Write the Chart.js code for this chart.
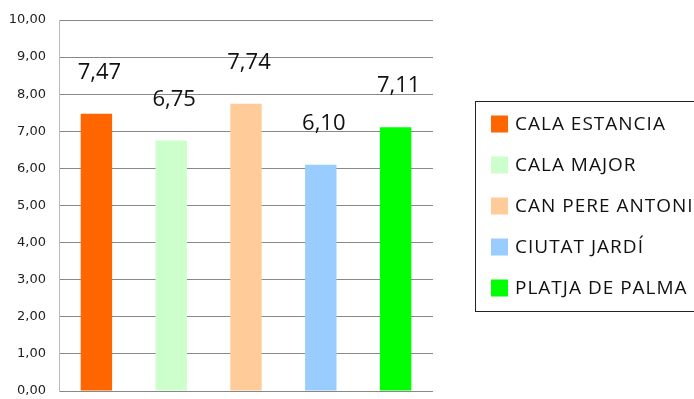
<!DOCTYPE html>
<html>
<head>
<meta charset="utf-8">
<script src="https://cdn.jsdelivr.net/npm/chart.js@4/dist/chart.umd.min.js"></script>
<style>
    html, body { margin: 0; padding: 0; background: #fff; overflow: hidden; }
    canvas { display: block; }
</style>
</head>
<body>
<canvas id="zonesChart" width="694" height="399"></canvas>
<script>
// Scores per zone
const zones = ['CALA ESTANCIA', 'CALA MAJOR', 'CAN PERE ANTONI', 'CIUTAT JARDÍ', 'PLATJA DE PALMA'];
const scores = [7.47, 6.75, 7.74, 6.10, 7.11];
const zoneColors = ['#FF6600', '#CCFFCC', '#FFCC99', '#99CCFF', '#00FF00'];

function formatComma(v) {
    return v.toFixed(2).replace('.', ',');
}

// Value labels drawn above each bar
const valueLabels = {
    id: 'valueLabels',
    afterDatasetsDraw(chart) {
        const ctx = chart.ctx;
        const meta = chart.getDatasetMeta(0);
        ctx.save();
        ctx.font = '22px "Open Sans"';
        ctx.fillStyle = '#111';
        ctx.textAlign = 'center';
        ctx.textBaseline = 'alphabetic';
        meta.data.forEach((bar, i) => {
            ctx.fillText(formatComma(scores[i]), bar.x + 3, bar.y - 35);
        });
        ctx.restore();
    }
};

// Boxed legend on the right
const boxLegend = {
    id: 'boxLegend',
    afterDraw(chart) {
        const ctx = chart.ctx;
        ctx.save();
        ctx.strokeStyle = '#222';
        ctx.lineWidth = 1;
        ctx.strokeRect(475.5, 101.5, 300, 210);
        ctx.font = '19px "Open Sans"';
        ctx.letterSpacing = '1px';
        ctx.textBaseline = 'middle';
        chart.data.labels.forEach((label, i) => {
            const cy = 124 + i * 41;
            ctx.fillStyle = zoneColors[i];
            ctx.fillRect(491, cy - 8.5, 17, 17);
            ctx.fillStyle = '#111';
            ctx.fillText(label, 515, cy + 1);
        });
        ctx.restore();
    }
};

new Chart(document.getElementById('zonesChart'), {
    type: 'bar',
    data: {
        labels: zones,
        datasets: [{
            data: scores,
            backgroundColor: zoneColors,
            barPercentage: 0.42,
            categoryPercentage: 1
        }]
    },
    options: {
        responsive: false,
        animation: false,
        layout: { padding: { left: 0, right: 261, top: 20, bottom: 8 } },
        plugins: {
            legend: { display: false },
            tooltip: { enabled: false }
        },
        scales: {
            x: {
                display: false
            },
            y: {
                min: 0,
                max: 10,
                ticks: {
                    stepSize: 1,
                    padding: 13,
                    color: '#222',
                    font: { family: 'DejaVu Sans', size: 13 },
                    callback: v => formatComma(v)
                },
                grid: { color: '#888', drawTicks: false },
                border: { color: '#bbb' },
                afterFit(scale) {
                    scale.width = 59;
                    scale.paddingTop = 0;
                    scale.paddingBottom = 0;
                }
            }
        }
    },
    plugins: [valueLabels, boxLegend]
});
</script>
</body>
</html>
